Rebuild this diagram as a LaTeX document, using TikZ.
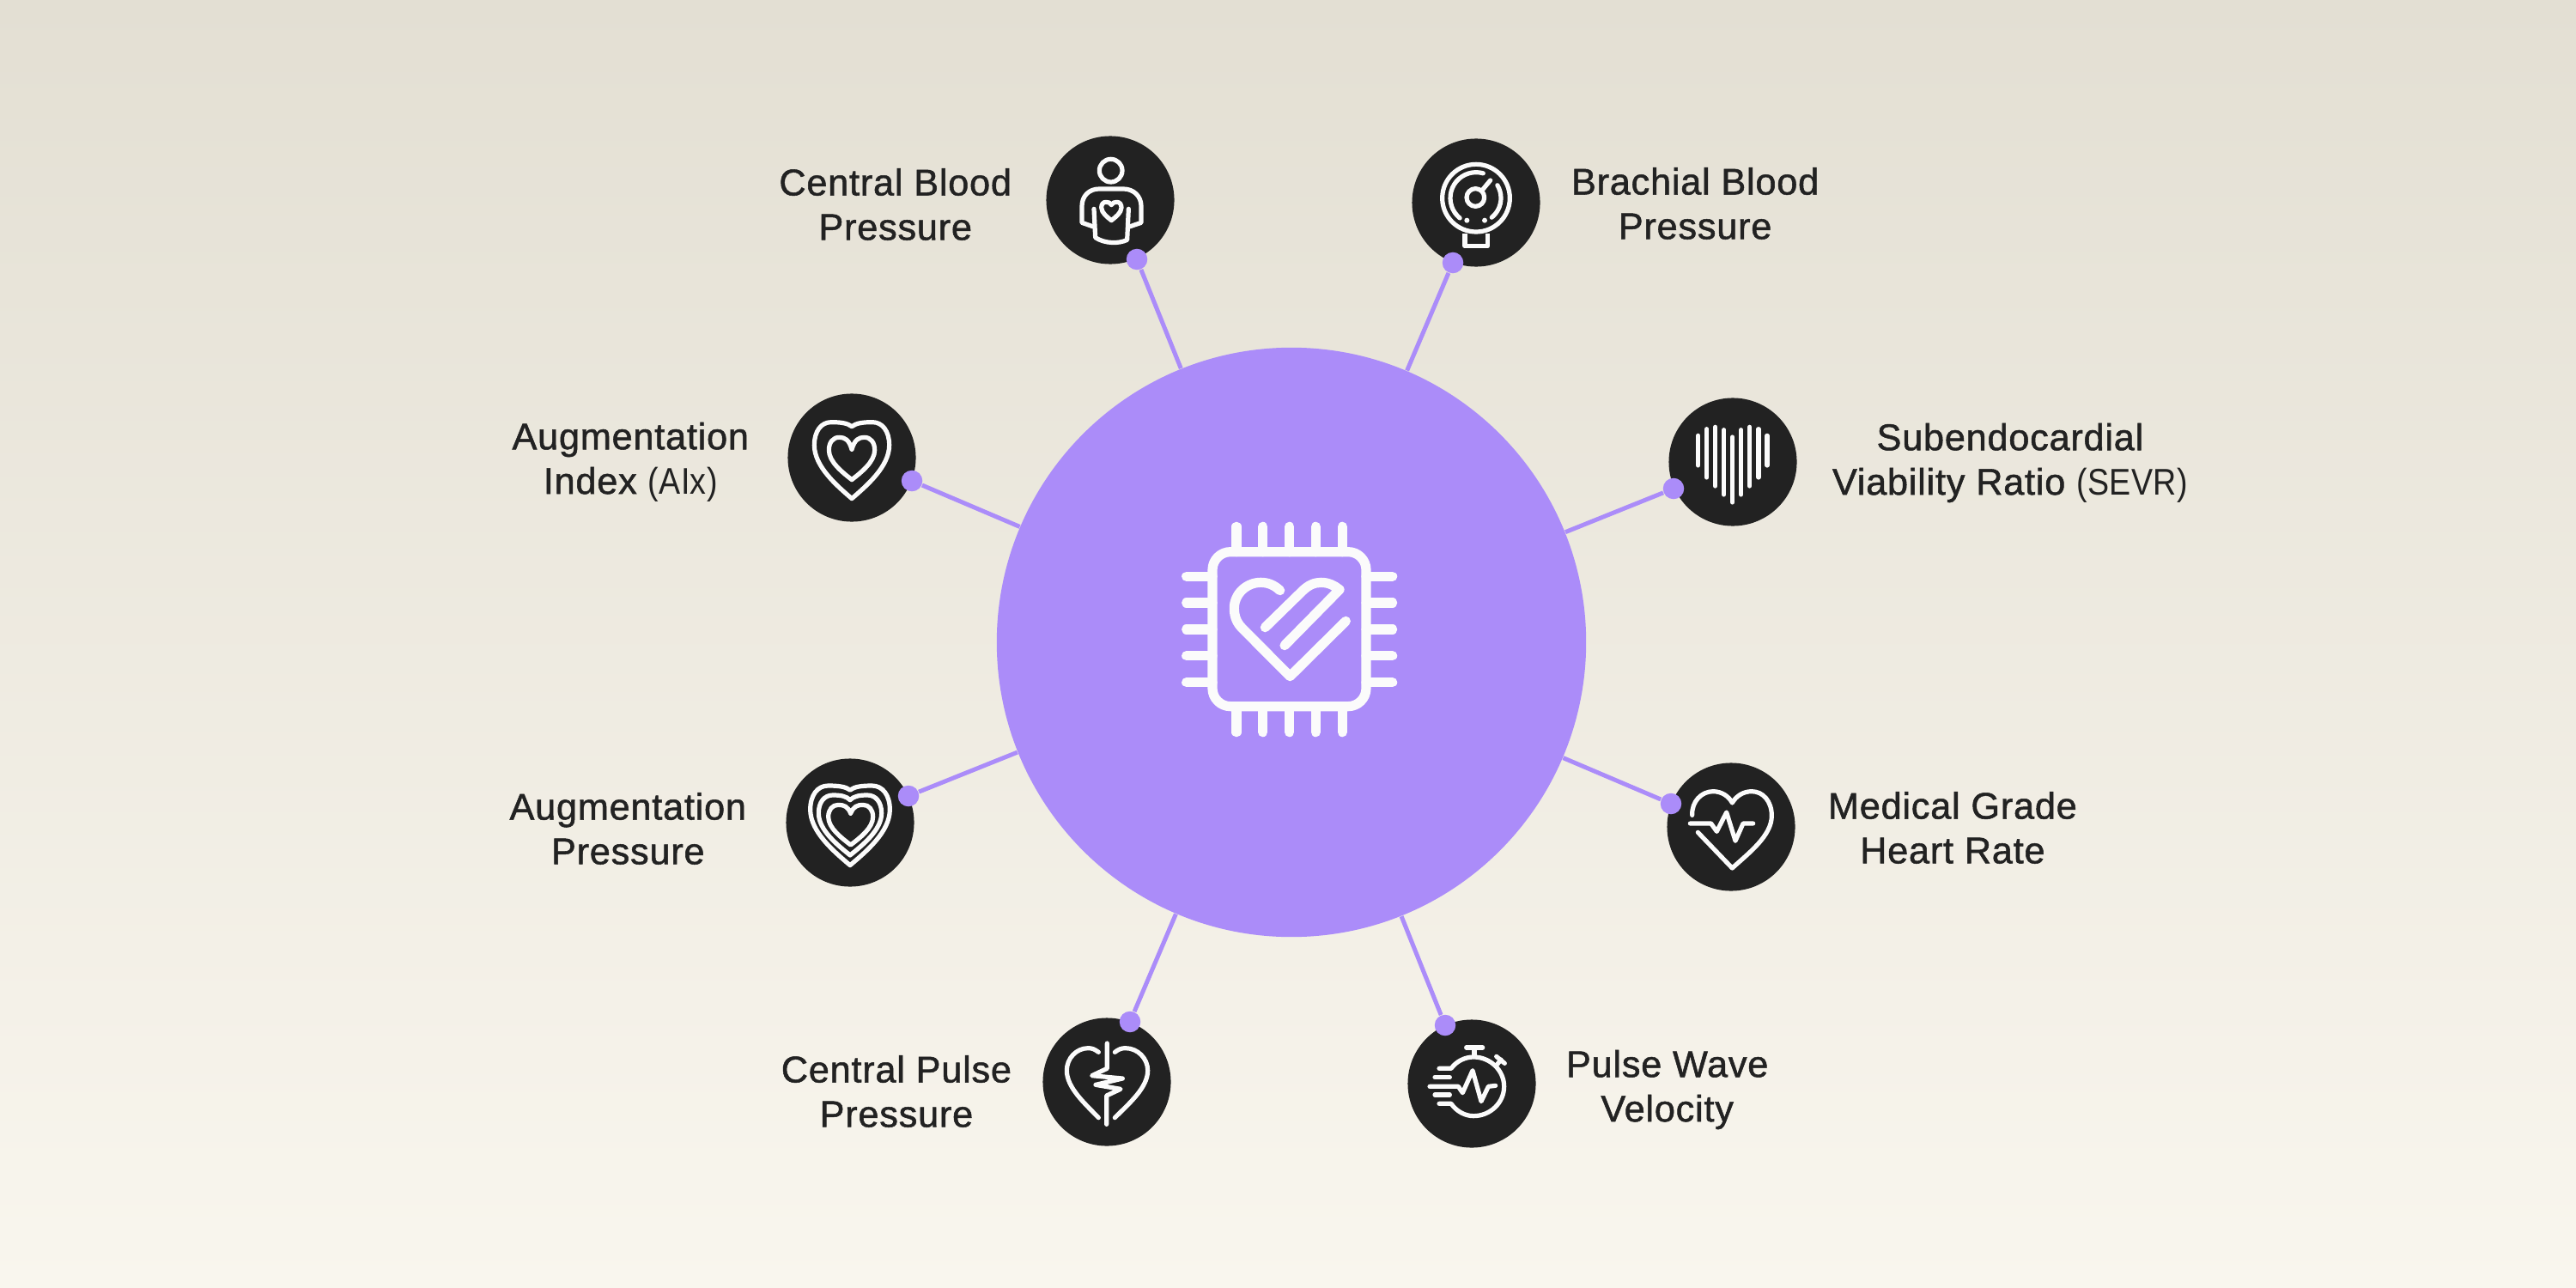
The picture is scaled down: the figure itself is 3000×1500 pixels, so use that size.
\documentclass[tikz,border=0pt]{standalone}
\usepackage{fontspec}
\setmainfont{Liberation Sans}[FakeBold=1.2,LetterSpace=1.8]
\newfontfamily\plainface{Liberation Sans}[FakeStretch=0.87,LetterSpace=1.0]
\usetikzlibrary{positioning}

\definecolor{bgtop}{HTML}{E3DFD3}
\definecolor{bgbottom}{HTML}{F9F6EE}
\definecolor{violet}{HTML}{AB8CF9}
\definecolor{ink}{HTML}{222222}
\definecolor{iconwhite}{HTML}{FBFBFB}

% heart outline: notch x, notch y, half width, top y, bottom y
\newcommand{\heartline}[5]{%
    \draw[icon] (#1,#2) .. controls ({#1-.12*#3},{#4+.2*(#2-#4)}) and ({#1-.3*#3},#4) .. ({#1-.55*#3},#4)
        .. controls ({#1-.82*#3},#4) and ({#1-#3},{#4+.12*(#5-#4)}) .. ({#1-#3},{#4+.3*(#5-#4)})
        .. controls ({#1-#3},{#4+.58*(#5-#4)}) and ({#1-.4*#3},{#5-.17*(#5-#4)}) .. (#1,#5)
        .. controls ({#1+.4*#3},{#5-.17*(#5-#4)}) and ({#1+#3},{#4+.58*(#5-#4)}) .. ({#1+#3},{#4+.3*(#5-#4)})
        .. controls ({#1+#3},{#4+.12*(#5-#4)}) and ({#1+.82*#3},#4) .. ({#1+.55*#3},#4)
        .. controls ({#1+.3*#3},#4) and ({#1+.12*#3},{#4+.2*(#2-#4)}) .. (#1,#2);%
}

\begin{document}
\begin{tikzpicture}[
    x=0.01cm, y=-0.01cm,
    hub/.style={circle, fill=violet, minimum size=6.86cm, inner sep=0pt},
    metric/.style={circle, fill=ink, minimum size=1.49cm, inner sep=0pt},
    joint/.style={circle, fill=violet, minimum size=0.245cm, inner sep=0pt},
    link/.style={draw=violet, line width=0.05cm},
    caption/.style={align=center, text=ink, inner sep=0pt, font=\fontsize{12.3}{14.75}\selectfont},
    icon/.style={draw=iconwhite, line width=0.052cm, line cap=round, line join=round},
    chipline/.style={draw=iconwhite, line width=0.112cm, line cap=round, line join=round}
]
    % Background
    \fill[top color=bgtop, bottom color=bgbottom] (0,0) rectangle (3000,1500);

    % Centre and metric circles
    \node[hub] (core) at (1504,748) {};
    \node[metric] (central) at (1293,233) {};
    \node[metric] (brachial) at (1719,236) {};
    \node[metric] (augindex) at (992,533) {};
    \node[metric] (sevr) at (2018,538) {};
    \node[metric] (augpressure) at (990,958) {};
    \node[metric] (heartrate) at (2016,963) {};
    \node[metric] (pulsepressure) at (1289,1260) {};
    \node[metric] (wave) at (1714,1262) {};

    % Labels
    \node[caption, left=0.39cm of central, yshift=-0.05cm] (centrallabel) {Central Blood\\Pressure};
    \node[caption, right=0.35cm of brachial, yshift=-0.01cm] (brachiallabel) {Brachial Blood\\Pressure};
    \node[caption, left=0.44cm of augindex, yshift=-0.05cm] (augindexlabel) {Augmentation\\Index {\plainface(AIx)}};
    \node[caption, right=0.40cm of sevr, yshift=-0.01cm] (sevrlabel) {Subendocardial\\Viability Ratio {\plainface(SEVR)}};
    \node[caption, left=0.45cm of augpressure, yshift=-0.07cm] (augpressurelabel) {Augmentation\\Pressure};
    \node[caption, right=0.37cm of heartrate, yshift=-0.01cm] (heartratelabel) {Medical Grade\\Heart Rate};
    \node[caption, left=0.35cm of pulsepressure, yshift=-0.11cm] (pulsepressurelabel) {Central Pulse\\Pressure};
    \node[caption, right=0.34cm of wave, yshift=-0.07cm] (wavelabel) {Pulse Wave\\Velocity};

    % Joints on the metric circles
    \node[joint] (centraljoint) at (1324,302) {};
    \node[joint] (brachialjoint) at (1692,306) {};
    \node[joint] (augindexjoint) at (1062,560) {};
    \node[joint] (sevrjoint) at (1949,569) {};
    \node[joint] (augpressurejoint) at (1058,927) {};
    \node[joint] (heartratejoint) at (1946,936) {};
    \node[joint] (pulsepressurejoint) at (1316,1190) {};
    \node[joint] (wavejoint) at (1683,1194) {};

    % Connectors
    \draw[link] (core) -- (centraljoint);
    \draw[link] (core) -- (brachialjoint);
    \draw[link] (core) -- (augindexjoint);
    \draw[link] (core) -- (sevrjoint);
    \draw[link] (core) -- (augpressurejoint);
    \draw[link] (core) -- (heartratejoint);
    \draw[link] (core) -- (pulsepressurejoint);
    \draw[link] (core) -- (wavejoint);

    % Chip icon
    \begin{scope}[shift={(1300,560)}, scale=1/3]
        \draw[chipline, rounded corners=0.21cm] (336,248) rectangle (873,788);
        \foreach \p in {420,512,605,697,790} {
            \draw[chipline] (\p,160) -- (\p,248);
            \draw[chipline] (\p,788) -- (\p,878);
        }
        \foreach \p in {334,426,519,611,704} {
            \draw[chipline] (245,\p) -- (336,\p);
            \draw[chipline] (873,\p) -- (965,\p);
        }
        \draw[chipline] (572,383) .. controls (552,364) and (530,355) .. (505,355)
            .. controls (455,355) and (412,395) .. (412,445)
            .. controls (412,475) and (422,497) .. (440,515) -- (607,683) -- (802,490);
        \draw[chipline] (520,512) -- (650,385) .. controls (670,365) and (692,355) .. (715,355)
            .. controls (740,355) and (762,365) .. (780,380) -- (588,575);
    \end{scope}

    % Person icon
    \begin{scope}[shift={(1180,140)}, scale=1/3]
        \draw[icon] (341,176) circle (40);
        \draw[icon] (282,310) -- (287,410) .. controls (320,432) and (370,432) .. (398,418) -- (403,310);
        \draw[icon] (280,372) -- (240,358) -- (240,300) .. controls (240,265) and (265,240) .. (300,240)
            -- (385,240) .. controls (420,240) and (447,265) .. (447,300) -- (447,358) -- (406,372);
        \heartline{343}{296}{35}{286}{350}
    \end{scope}

    % Gauge icon
    \begin{scope}[shift={(1620,140)}, scale=1/3]
        \draw[icon] (297,272) circle (118);
        \draw[icon] plot[smooth, domain=74:231, samples=20] ({297+90*cos(\x)},{272-90*sin(\x)});
        \draw[icon] plot[smooth, domain=31:-51, samples=12] ({297+87*cos(\x)},{272-87*sin(\x)});
        \draw[icon] (295,270) circle (31);
        \draw[icon] (318,245) -- (347,210);
        \fill[iconwhite] (265,350) circle (9) (327,350) circle (9);
        \draw[icon, line cap=butt] (258,396) -- (258,440) -- (337,440) -- (337,396);
    \end{scope}

    % Two hearts icon
    \begin{scope}[shift={(900,440)}, scale=1/3]
        \heartline{276}{170}{131}{155}{422}
        \heartline{276}{250}{80}{208}{356}
    \end{scope}

    % Bars icon
    \begin{scope}[shift={(1920,450)}, scale=1/3]
        \foreach \p/\t/\b in {173/172/276, 203/149/318, 233/142/348, 263/152/378, 293/177/405, 323/152/378, 353/142/348, 384/149/318, 414/172/276} {
            \draw[icon] (\p,\t) -- (\p,\b);
        }
    \end{scope}

    % Three hearts icon
    \begin{scope}[shift={(900,860)}, scale=1/3]
        \heartline{270}{180}{139}{165}{443}
        \heartline{270}{215}{110}{198}{408}
        \heartline{272}{262}{78}{232}{372}
    \end{scope}

    % Heart rate icon
    \begin{scope}[shift={(1920,870)}, scale=1/3]
        \draw[icon] (152,238) .. controls (150,190) and (185,155) .. (225,155)
            .. controls (255,155) and (280,172) .. (292,195) .. controls (305,172) and (330,155) .. (360,155)
            .. controls (400,155) and (430,190) .. (430,240) .. controls (430,310) and (350,370) .. (292,423) -- (172,298);
        \draw[icon] (145,267) -- (218,267) -- (238,295) -- (272,228) -- (303,328) -- (330,267) -- (365,267);
    \end{scope}

    % Split heart icon
    \begin{scope}[shift={(1180,1150)}, scale=1/3]
        \draw[icon] (298,226) .. controls (285,216) and (275,212) .. (262,212)
            .. controls (220,212) and (187,248) .. (187,290) .. controls (187,350) and (250,405) .. (298,455);
        \draw[icon] (355,226) .. controls (368,216) and (378,212) .. (392,212)
            .. controls (435,212) and (470,248) .. (470,290) .. controls (470,350) and (405,405) .. (355,455);
        \draw[icon] (328,195) -- (328,283) -- (275,308) -- (382,318) -- (288,340) -- (375,355) -- (326,378) -- (326,478);
    \end{scope}

    % Stopwatch icon
    \begin{scope}[shift={(1620,1150)}, scale=1/3]
        \draw[icon] (168,283) -- (210,283) .. controls (228,258) and (258,243) .. (288,243)
            .. controls (347,243) and (395,290) .. (395,346) .. controls (395,402) and (347,449) .. (288,449)
            .. controls (258,449) and (228,432) .. (210,406) -- (168,406);
        \draw[icon] (153,314) -- (205,314);
        \draw[icon] (153,375) -- (205,375);
        \draw[icon] (135,346) -- (235,346) -- (250,368) -- (285,290) -- (315,398) -- (340,346) -- (365,343);
        \draw[icon] (263,210) -- (320,210);
        \draw[icon] (291,210) -- (291,240);
        \draw[icon] (368,241) -- (397,265);
        \draw[icon] (384,252) -- (370,270);
    \end{scope}
\end{tikzpicture}
\end{document}
